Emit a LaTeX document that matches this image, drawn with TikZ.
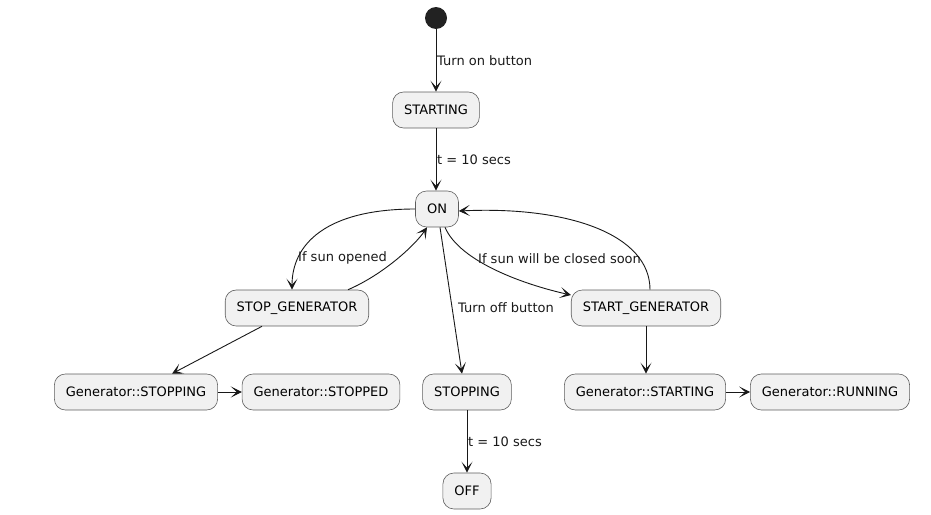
\documentclass[tikz,border=0pt]{standalone}
\usepackage{fontspec}
\setmainfont{DejaVu Sans}
\usetikzlibrary{arrows.meta}
\definecolor{statefill}{HTML}{F1F1F1}
\definecolor{statedraw}{HTML}{181818}
\definecolor{linecol}{HTML}{181818}
\definecolor{dotfill}{HTML}{222222}
\tikzset{
  statebox/.style={draw=statedraw!70, fill=statefill, line width=0.6pt, rounded corners=11pt,
    minimum height=36pt, inner xsep=11.5pt, font=\fontsize{13}{15}\selectfont},
  startdot/.style={circle, fill=dotfill, draw=none, minimum size=22pt, inner sep=0pt},
  arr/.style={draw=linecol, line width=0.9pt, -{Stealth[length=11pt,width=11pt,inset=6pt]}},
  lbl/.style={anchor=west, inner sep=0pt, font=\fontsize{13}{15}\selectfont, text=black!90}
}
\begin{document}
\begin{tikzpicture}[x=1pt,y=-1pt]
\useasboundingbox (0,0) rectangle (931,514);
\node[startdot] (init) at (436,18) {};
\node[statebox] (starting) at (436,110) {STARTING};
\node[statebox] (on) at (437,209) {ON};
\node[statebox] (stopgen) at (297,308) {STOP\_GENERATOR};
\node[statebox] (startgen) at (646,308) {START\_GENERATOR};
\node[statebox] (stopping) at (467,392) {STOPPING};
\node[statebox] (off) at (467,491) {OFF};
\node[statebox] (gstopping) at (136,392) {Generator::STOPPING};
\node[statebox] (gstopped) at (321,392) {Generator::STOPPED};
\node[statebox] (gstarting) at (645,392) {Generator::STARTING};
\node[statebox] (grunning) at (830,392) {Generator::RUNNING};

\draw[arr] (init) -- (init |- starting.north);
\draw[arr] (starting) -- (starting |- on.north);
\draw[arr] (on.west) .. controls +(-90,0) and +(0,-45) .. ([xshift=-5pt]stopgen.north);
\draw[arr] ([xshift=51pt]stopgen.north) .. controls +(35,-15) and +(-12,18) .. ([xshift=-10pt]on.south);
\draw[arr] ([xshift=3pt]on.south) -- ([xshift=-5pt]stopping.north);
\draw[arr] ([xshift=8pt]on.south) .. controls +(15,35) and +(-45,-10) .. ([yshift=13pt]startgen.west);
\draw[arr] ([xshift=4pt]startgen.north) .. controls +(0,-55) and +(110,-5) .. ([yshift=-2pt]on.east);
\draw[arr] ([xshift=-35pt]stopgen.south) -- ([xshift=36pt]gstopping.north);
\draw[arr] (gstopping) -- (gstopped);
\draw[arr] (startgen) -- (startgen |- gstarting.north);
\draw[arr] (gstarting) -- (grunning);
\draw[arr] (stopping) -- (off);

\node[lbl] (l1) at (437,61) {Turn on button};
\node[lbl] (l2) at (437,160) {t = 10 secs};
\node[lbl] (l3) at (298,258) {If sun opened};
\node[lbl] (l4) at (478,259) {If sun will be closed soon};
\node[lbl] (l5) at (458,308) {Turn off button};
\node[lbl] (l6) at (468,442) {t = 10 secs};
\end{tikzpicture}
\end{document}
